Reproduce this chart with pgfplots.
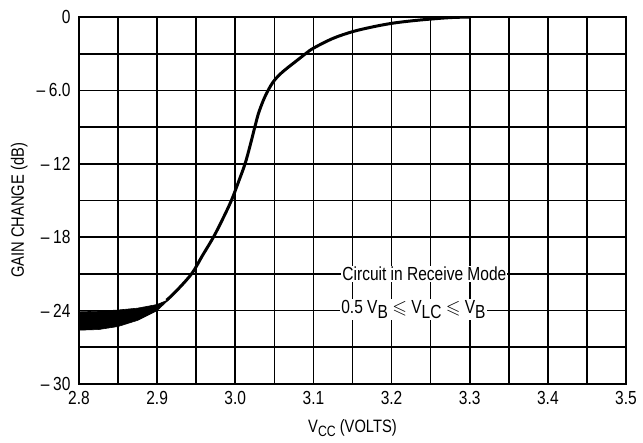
\documentclass[border=0pt]{standalone}
\usepackage{pgfplots}
\pgfplotsset{compat=1.18}
\usepackage{amssymb}
\usepackage{fontspec}
\setmainfont{Liberation Sans}[FakeStretch=0.82]
\begin{document}
\fontsize{19}{22}\selectfont
\begin{tikzpicture}
\begin{axis}[
  scale only axis, width=547bp, height=367bp,
  xmin=2.8, xmax=3.5, ymin=-30, ymax=0,
  xtick={2.8,2.9,3.0,3.1,3.2,3.3,3.4,3.5},
  xticklabels={2.8,2.9,3.0,3.1,3.2,3.3,3.4,3.5},
  minor xtick={2.85,2.95,3.05,3.15,3.25,3.35,3.45},
  ytick={-30,-24,-18,-12,-6,0},
  yticklabels={\textendash\hspace{0.2em}30,\textendash\hspace{0.2em}24,\textendash\hspace{0.2em}18,\textendash\hspace{0.2em}12,\textendash\hspace{0.2em}6.0,0},
  minor ytick={-27,-21,-15,-9,-3},
  grid=both,
  major grid style={black, line width=1.7pt},
  minor grid style={black, line width=1.7pt},
  axis line style={line width=2.4pt},
  major tick length=0pt, minor tick length=0pt,
  tick label style={font=\fontsize{19}{22}\selectfont},
  xticklabel style={yshift=-1pt},
  yticklabel style={xshift=-2pt},
  label style={font=\fontsize{18}{22}\selectfont},
  xlabel={V\raisebox{-0.45ex}{\fontsize{15}{18}\selectfont CC} (VOLTS)},
  ylabel={GAIN CHANGE (dB)},
  xlabel style={yshift=-2pt},
  ylabel style={yshift=-4pt, xshift=-10pt},
]
% band at low voltage
\addplot[fill=black, draw=black, line width=0.6pt] coordinates {
  (2.8,-24.1) (2.825,-24.05) (2.85,-23.95) (2.875,-23.8) (2.9,-23.5) (2.915,-23.1)
  (2.9,-24.0) (2.875,-24.8) (2.85,-25.3) (2.825,-25.55) (2.8,-25.6) (2.8,-24.1)
};
% main curve
\addplot[black, line width=3pt, smooth, tension=0.55] coordinates {
  (2.912,-23.15) (2.923,-22.5) (2.944,-21) (2.958,-19.5) (2.972,-18)
  (2.984,-16.5) (2.995,-15) (3.004,-13.5) (3.0125,-12) (3.019,-10.5)
  (3.025,-9) (3.0296,-7.9) (3.036,-6.8) (3.042,-6.0) (3.048,-5.35)
  (3.056,-4.75) (3.066,-4.2) (3.078,-3.6) (3.09,-3.0) (3.1,-2.55)
  (3.125,-1.75) (3.15,-1.2) (3.175,-0.82) (3.2,-0.52) (3.225,-0.32)
  (3.25,-0.17) (3.275,-0.05) (3.3,0)
};
\node[fill=white, inner sep=1pt, anchor=center] at (axis cs:3.242,-21) {Circuit in Receive Mode};
\node[fill=white, inner sep=1pt, anchor=base] at (axis cs:3.228,-24.25) {0.5 V\raisebox{-0.5ex}{B} $\leqslant$ V\raisebox{-0.5ex}{LC} $\leqslant$ V\raisebox{-0.5ex}{B}};
\end{axis}
\pgfresetboundingbox
\path[use as bounding box] (current axis.south west) ++(-79bp,-59bp) rectangle ++(643bp,443bp);
\end{tikzpicture}
\end{document}
